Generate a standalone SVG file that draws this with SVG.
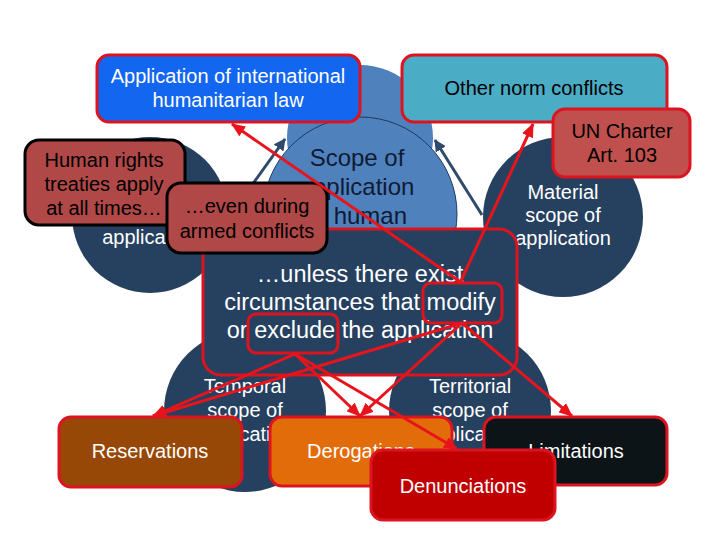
<svg xmlns="http://www.w3.org/2000/svg" width="720" height="540" viewBox="0 0 720 540">
<defs>
<marker id="ar" markerUnits="userSpaceOnUse" markerWidth="14" markerHeight="12" refX="13" refY="6" orient="auto">
<path d="M0,0 L14,6 L0,12 Z" fill="#E8141C"/>
</marker>
<marker id="an" markerUnits="userSpaceOnUse" markerWidth="12" markerHeight="12" refX="11" refY="6" orient="auto">
<path d="M0,0 L12,6 L0,12 Z" fill="#2F4A6B"/>
</marker>
</defs>
<style>
text{font-family:"Liberation Sans",Arial,sans-serif;text-anchor:middle}
.t20{font-size:20px}
.w{fill:#ffffff}
.k{fill:#000000}
.navy{fill:#26405F}
.box{stroke:#DC1420;stroke-width:3}
.hr{stroke:#000000;stroke-width:3}
.conn{stroke:#E8141C;stroke-width:3;fill:none;marker-end:url(#ar)}
.nav{stroke:#2F4A6B;stroke-width:3;fill:none;marker-end:url(#an)}
</style>
<rect width="720" height="540" fill="#ffffff"/>
<g id="cycle-arrows">
<line class="nav" x1="252" y1="185" x2="285" y2="139"/>
<line class="nav" x1="482" y1="215" x2="435" y2="140"/>
</g>
<g id="circle-top"><circle cx="360" cy="138" r="73" fill="#4F81BD"/></g>
<g id="circle-personal"><circle cx="150" cy="215" r="78" class="navy"/>
<text class="t20 w" x="150" y="244">application</text></g>
<g id="circle-material"><circle cx="563" cy="217" r="80" class="navy"/>
<text class="t20 w" x="563" y="199">Material</text><text class="t20 w" x="563" y="222">scope of</text><text class="t20 w" x="563" y="245">application</text></g>
<g id="circle-temporal"><circle cx="245" cy="411" r="81" class="navy"/>
<text class="t20 w" x="245" y="393">Temporal</text><text class="t20 w" x="245" y="417">scope of</text><text class="t20 w" x="245" y="441">application</text></g>
<g id="circle-territorial"><circle cx="470" cy="411" r="81" class="navy"/>
<text class="t20 w" x="470" y="393">Territorial</text><text class="t20 w" x="470" y="417">scope of</text><text class="t20 w" x="470" y="441">application</text></g>
<g id="circle-center"><circle cx="360" cy="214" r="97" fill="#4F81BD" stroke="#1F3A5F" stroke-width="1"/>
<text x="357" y="166" font-size="24" fill="#111a33">Scope of</text>
<text x="357" y="195" font-size="24" fill="#111a33">application</text>
<text x="357" y="224" font-size="24" fill="#111a33">of human</text></g>
<g id="unless">
<rect x="203" y="229" width="314" height="146" rx="18" class="navy box"/>
<text x="360" y="282" font-size="23.5" class="w">…unless there exist</text>
<text x="360" y="310" font-size="23.5" class="w">circumstances that modify</text>
<text x="360" y="338" font-size="23.5" class="w">or exclude the application</text>
<rect id="modify" x="423" y="283" width="79" height="40" rx="8" fill="none" class="box"/>
<rect id="exclude" x="248" y="314" width="90" height="39" rx="8" fill="none" class="box"/>
</g>
<g id="ihl"><rect x="97" y="55" width="263" height="67" rx="12" fill="#1266F0" class="box"/>
<text class="t20 w" x="228" y="83">Application of international</text><text class="t20 w" x="228" y="107">humanitarian law</text></g>
<g id="other"><rect x="402" y="55" width="265" height="67" rx="12" fill="#4BACC6" class="box"/>
<text class="t20 k" x="534" y="95">Other norm conflicts</text></g>
<g id="uncharter"><rect x="553" y="109" width="137" height="68" rx="12" fill="#C0504D" class="box"/>
<text class="t20 k" x="622" y="138">UN Charter</text><text class="t20 k" x="622" y="162">Art. 103</text></g>
<g id="hr"><rect x="25" y="140" width="160" height="85" rx="14" fill="#B04848" class="hr"/>
<text class="t20 k" x="104" y="167">Human rights</text><text class="t20 k" x="104" y="191">treaties apply</text><text class="t20 k" x="104" y="215">at all times…</text></g>
<g id="even"><rect x="167" y="183" width="160" height="70" rx="14" fill="#B04848" class="hr"/>
<text class="t20 k" x="247" y="213">…even during</text><text class="t20 k" x="247" y="238">armed conflicts</text></g>
<g id="reservations"><rect x="59" y="417" width="183" height="70" rx="12" fill="#974806" class="box"/>
<text class="t20 w" x="150" y="458">Reservations</text></g>
<g id="derogations"><rect x="270" y="417" width="182" height="69" rx="12" fill="#E36C0A" class="box"/>
<text class="t20 w" x="361" y="458">Derogations</text></g>
<g id="limitations"><rect x="484" y="417" width="183" height="68" rx="12" fill="#0C1418" class="box"/>
<text class="t20 w" x="576" y="458">Limitations</text></g>
<g id="connectors">
<line class="conn" x1="462" y1="283" x2="232" y2="124"/>
<line class="conn" x1="460" y1="283" x2="533" y2="124"/>
<line class="conn" x1="462" y1="323" x2="153" y2="416"/>
<line class="conn" x1="462" y1="323" x2="360" y2="416"/>
<line class="conn" x1="462" y1="323" x2="572" y2="416"/>
<line class="conn" x1="295" y1="354" x2="153" y2="416"/>
<line class="conn" x1="295" y1="354" x2="360" y2="416"/>
<line class="conn" x1="295" y1="354" x2="457" y2="449"/>
</g>
<g id="denunciations"><rect x="371" y="450" width="184" height="70" rx="12" fill="#C00000" class="box"/>
<text class="t20 w" x="463" y="493">Denunciations</text></g>
</svg>
